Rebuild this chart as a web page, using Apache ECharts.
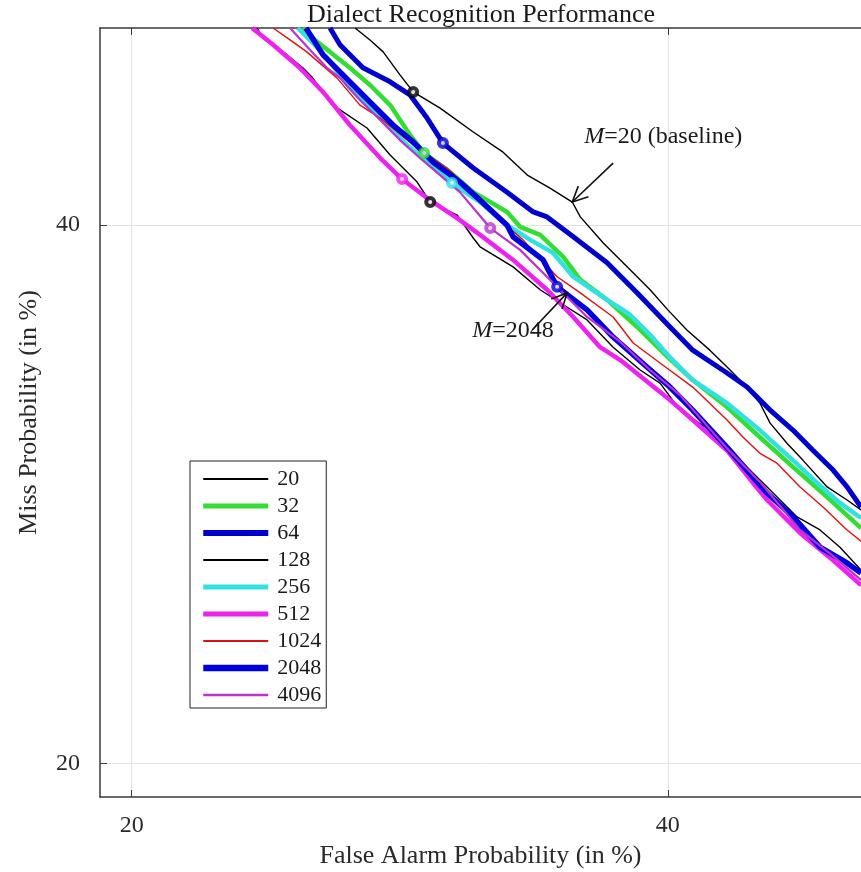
<!DOCTYPE html>
<html><head><meta charset="utf-8">
<script src="https://cdn.jsdelivr.net/npm/echarts@6/dist/echarts.min.js"></script>
<style>html,body{margin:0;padding:0;background:#fff}#c{width:861px;height:872px}</style>
</head><body><div id="c"></div>
<script>
// ---- data: [false alarm %, miss %] ----
const seriesNames = ['20','32','64','128','256','512','1024','2048','4096'];
const det20 = [[27.54,48.49],[28.09,47.97],[28.58,47.45],[29.21,46.45],[29.71,45.71],[30.74,45.01],[32.03,43.98],[33.21,43.11],[34.18,42.13],[35.10,41.57],[36.01,40.98],[36.34,40.35],[37.29,39.25],[38.41,38.13],[39.25,37.30],[40.00,36.47],[40.81,35.65],[41.79,34.83],[42.53,34.15],[43.30,33.43],[43.95,32.71],[44.39,31.93],[45.13,31.14],[45.82,30.49],[46.87,29.48],[47.74,28.99],[48.35,28.62]];
const det32 = [[25.66,48.49],[26.09,47.97],[26.63,47.45],[27.35,46.76],[28.09,46.01],[28.84,45.14],[29.59,43.85],[30.13,43.07],[31.12,42.26],[32.03,41.40],[32.58,41.06],[33.37,40.56],[33.89,39.93],[34.70,39.59],[35.64,38.67],[36.34,37.71],[37.45,36.88],[38.71,35.77],[40.00,34.55],[41.06,33.63],[42.53,32.56],[43.95,31.38],[45.39,30.23],[46.87,29.10],[48.35,27.95]];
const det64 = [[26.63,48.49],[26.99,47.76],[27.83,46.76],[28.84,46.15],[29.59,45.58],[30.24,44.58],[30.85,43.50],[32.03,42.43],[33.37,41.40],[34.42,40.56],[34.98,40.35],[36.05,39.51],[37.45,38.42],[38.71,37.17],[40.00,35.86],[41.06,34.83],[42.53,33.91],[43.39,33.35],[44.39,32.44],[45.39,31.65],[46.26,30.87],[47.13,30.12],[47.74,29.48],[48.35,28.73]];
const det128 = [[24.07,48.49],[24.24,48.14],[24.97,47.45],[25.66,46.76],[25.98,46.36],[26.74,45.14],[27.98,44.15],[28.84,42.99],[29.86,41.83],[30.36,40.98],[31.40,40.43],[32.03,39.46],[32.30,39.09],[33.61,38.25],[34.70,37.30],[35.64,36.68],[36.62,36.06],[37.70,34.95],[38.83,34.03],[39.67,33.51],[40.52,32.44],[41.79,31.65],[43.22,30.38],[44.26,29.48],[45.56,28.36],[46.56,27.88],[47.43,27.25],[48.35,26.43]];
const det256 = [[25.48,48.49],[25.98,47.89],[26.52,47.19],[27.35,45.88],[28.47,44.58],[29.48,43.42],[30.36,42.56],[31.20,41.79],[32.30,40.98],[33.37,40.00],[34.30,39.38],[35.22,38.84],[36.05,37.84],[37.45,36.88],[38.41,36.27],[39.25,35.45],[40.00,34.63],[41.06,33.63],[42.53,32.71],[43.95,31.65],[45.39,30.49],[46.43,29.63],[47.43,28.88],[48.35,28.32]];
const det512 = [[23.90,48.49],[24.62,47.76],[25.55,46.76],[26.38,45.71],[27.35,44.28],[28.47,42.86],[29.29,41.96],[30.24,41.15],[31.40,40.30],[32.30,39.59],[33.61,38.54],[34.98,37.30],[36.05,36.18],[37.16,34.95],[38.00,34.43],[40.00,32.91],[41.06,32.05],[42.53,30.87],[43.65,29.63],[44.26,28.99],[45.69,27.77],[47.13,26.78],[48.35,25.89]];
const det1024 = [[24.62,48.49],[25.21,47.97],[25.80,47.45],[26.88,46.32],[27.72,45.14],[28.47,44.58],[29.71,43.42],[31.01,42.43],[32.03,41.40],[33.09,40.22],[34.01,39.38],[35.39,37.84],[36.34,37.17],[37.70,36.18],[38.54,35.12],[39.67,34.31],[41.06,33.35],[42.53,32.05],[43.22,31.38],[43.95,30.76],[44.69,30.38],[45.69,29.48],[46.69,28.73],[47.74,27.88],[48.35,27.47]];
const det2048 = [[25.77,48.49],[26.38,47.32],[27.10,46.45],[27.83,45.58],[28.95,44.28],[29.71,43.55],[30.47,42.69],[31.51,41.83],[32.30,41.06],[33.37,40.00],[33.61,39.51],[34.82,38.54],[35.39,37.42],[36.62,36.47],[37.70,35.36],[39.12,34.15],[40.00,33.43],[41.06,32.44],[42.53,30.99],[43.65,29.85],[44.26,29.25],[45.39,28.36],[46.56,27.25],[47.74,26.68],[48.35,26.32]];
const det4096 = [[25.21,48.49],[25.91,47.54],[26.52,46.76],[26.99,46.32],[27.72,45.36],[28.47,44.50],[29.21,43.63],[29.97,42.86],[30.74,42.13],[31.51,41.40],[32.10,40.64],[32.70,39.88],[33.89,38.96],[35.22,37.59],[36.62,36.18],[38.00,35.16],[39.25,34.03],[40.52,33.03],[42.53,30.95],[43.95,29.67],[45.69,27.88],[47.13,26.93],[48.35,26.07]];
// operating-point markers, one per system (1024 has none visible)
const operatingPoints = [[29.71,45.71],[30.13,43.07],[30.85,43.50],[30.36,40.98],[31.20,41.79],[29.29,41.96],null,[35.39,37.42],[32.70,39.88]];
const xTickValues = [20, 40];
const yTickValues = [20, 40];
const xRangePct = [19.04, 48.35];
const yRangePct = [18.99, 48.49];
// annotations (data coords, %)
const noteBaseline = {text: 'M=20 (baseline)', at: [36.50, 43.76], tip: [36.01, 40.98], tail: [37.70, 42.64]};
const note2048 = {text: 'M=2048', at: [31.99, 35.61], tip: [35.80, 37.17], tail: [34.38, 35.65]};

// ---- styles ----
const allData = [det20, det32, det64, det128, det256, det512, det1024, det2048, det4096];
const colors = ['#000000','#33dd33','#0000cc','#000000','#33e0e0','#ee22ee','#dd1111','#0000dd','#bb33cc'];
const widths = [1.4, 4.5, 5, 1.4, 4.5, 4.5, 1.4, 5.5, 2.2];
const legendWidths = [2, 5, 6, 2, 5, 5, 2, 6.5, 2.5];
const FONT = 'Liberation Serif';

function probit(p){
  const a=[-3.969683028665376e+01,2.209460984245205e+02,-2.759285104469687e+02,1.383577518672690e+02,-3.066479806614716e+01,2.506628277459239e+00];
  const b=[-5.447609879822406e+01,1.615858368580409e+02,-1.556989798598866e+02,6.680131188771972e+01,-1.328068155288572e+01];
  const c=[-7.784894002430293e-03,-3.223964580411365e-01,-2.400758277161838e+00,-2.549732539343734e+00,4.374664141464968e+00,2.938163982698783e+00];
  const d=[7.784695709041462e-03,3.224671290700398e-01,2.445134137142996e+00,3.754408661907416e+00];
  const pl=0.02425;
  if(p<pl){const q=Math.sqrt(-2*Math.log(p));return (((((c[0]*q+c[1])*q+c[2])*q+c[3])*q+c[4])*q+c[5])/((((d[0]*q+d[1])*q+d[2])*q+d[3])*q+1);}
  if(p>1-pl){const q=Math.sqrt(-2*Math.log(1-p));return -(((((c[0]*q+c[1])*q+c[2])*q+c[3])*q+c[4])*q+c[5])/((((d[0]*q+d[1])*q+d[2])*q+d[3])*q+1);}
  const q=p-0.5,r=q*q;
  return (((((a[0]*r+a[1])*r+a[2])*r+a[3])*r+a[4])*r+a[5])*q/(((((b[0]*r+b[1])*r+b[2])*r+b[3])*r+b[4])*r+1);
}
function normCdf(z){
  const t=1/(1+0.3275911*Math.abs(z)/Math.SQRT2);
  const y=1-(((((1.061405429*t-1.453152027)*t)+1.421413741)*t-0.284496736)*t+0.254829592)*t*Math.exp(-z*z/2);
  return z>=0?(1+y)/2:(1-y)/2;
}
const P = v => probit(v/100);
const toDet = pt => [P(pt[0]), P(pt[1])];

const axisCommon = {
  type:'value', scale:true,
  axisLine:{show:true, onZero:false, lineStyle:{color:'#3a3a3a', width:1.5}},
  splitLine:{show:true, lineStyle:{color:'#e2e2e2', width:1}}
};
const labelFmt = v => String(Math.round(normCdf(v)*100));

const series = [];
seriesNames.forEach((n,i)=>{
  series.push({
    type:'line', name:n, data: allData[i].map(toDet),
    showSymbol:false, symbol:'none', silent:true, animation:false,
    lineStyle:{color:colors[i], width:widths[i]}, itemStyle:{color:colors[i]},
    z: 2+i
  });
});
operatingPoints.forEach((pt,i)=>{
  if(!pt) return;
  series.push({
    type:'scatter', name:'op'+seriesNames[i], data:[toDet(pt)],
    symbol:'circle', symbolSize:8, silent:true, animation:false,
    itemStyle:{color:'#ffffff', borderColor:colors[i], borderWidth:4},
    z: 30
  });
});

const chart = echarts.init(document.getElementById('c'), null, {renderer:'canvas'});
chart.setOption({
  animation:false,
  backgroundColor:'#ffffff',
  title:{text:'Dialect Recognition Performance', left:307, top:2, padding:0,
    textStyle:{fontFamily:FONT, fontSize:26, fontWeight:'normal', color:'#1a1a1a'}},
  grid:{left:100, right:0, top:28, bottom:75, containLabel:false, outerBoundsMode:'none'},
  legend:{
    data: seriesNames.map((n,i)=>({name:n, itemStyle:{opacity:0}, lineStyle:{color:colors[i], width:legendWidths[i]}})),
    orient:'vertical', left:190, top:461,
    padding:[7,5,2,10], itemGap:5, itemWidth:65, itemHeight:12,
    backgroundColor:'#ffffff', borderColor:'#222', borderWidth:1, borderRadius:0,
    selectedMode:false,
    itemStyle:{opacity:0},
    textStyle:{fontFamily:FONT, fontSize:22, color:'#1a1a1a', padding:[0,0,0,4]}
  },
  xAxis:[
    Object.assign({}, axisCommon, {
      position:'bottom', min:P(xRangePct[0]), max:P(xRangePct[1]),
      axisTick:{show:true, inside:true, length:7, customValues:xTickValues.map(P), lineStyle:{color:'#3a3a3a'}},
      axisLabel:{show:true, customValues:xTickValues.map(P), formatter:labelFmt, fontFamily:FONT, fontSize:24, color:'#2a2a2a', margin:17},
      name:'False Alarm Probability (in %)', nameLocation:'middle', nameGap:46, nameMoveOverlap:false,
      nameTextStyle:{fontFamily:FONT, fontSize:26, color:'#2a2a2a'}
    }),
    Object.assign({}, axisCommon, {
      position:'top', min:P(xRangePct[0]), max:P(xRangePct[1]),
      axisTick:{show:true, inside:true, length:7, customValues:xTickValues.map(P), lineStyle:{color:'#3a3a3a'}},
      axisLabel:{show:false}, splitLine:{show:false}
    })
  ],
  yAxis:[
    Object.assign({}, axisCommon, {
      position:'left', min:P(yRangePct[0]), max:P(yRangePct[1]),
      axisTick:{show:true, inside:true, length:7, customValues:yTickValues.map(P), lineStyle:{color:'#3a3a3a'}},
      axisLabel:{show:true, customValues:yTickValues.map(P), formatter:labelFmt, fontFamily:FONT, fontSize:24, color:'#2a2a2a', margin:20},
      name:'Miss Probability (in %)', nameLocation:'middle', nameGap:58, nameMoveOverlap:false,
      nameTextStyle:{fontFamily:FONT, fontSize:26, color:'#2a2a2a'}
    })
  ],
  series: series
});

function px(pt){ return chart.convertToPixel({xAxisIndex:0, yAxisIndex:0}, toDet(pt)); }
function arrow(note){
  const a = px(note.tail), b = px(note.tip);
  const dx=b[0]-a[0], dy=b[1]-a[1], L=Math.hypot(dx,dy), ux=dx/L, uy=dy/L;
  const h=17, ang=0.45;
  const rot=(x,y,t)=>[x*Math.cos(t)-y*Math.sin(t), x*Math.sin(t)+y*Math.cos(t)];
  const r1=rot(-ux,-uy,ang), r2=rot(-ux,-uy,-ang);
  const st={stroke:'#111', lineWidth:1.6, fill:null};
  return [
    {type:'line', shape:{x1:a[0],y1:a[1],x2:b[0],y2:b[1]}, style:st, z:50},
    {type:'polyline', shape:{points:[[b[0]+r1[0]*h,b[1]+r1[1]*h],[b[0],b[1]],[b[0]+r2[0]*h,b[1]+r2[1]*h]]}, style:st, z:50}
  ];
}
function label(note){
  const p = px(note.at);
  const rest = note.text.slice(1);
  return {type:'text', x:p[0], y:p[1], z:50, style:{
    text:'{i|M}{n|'+rest+'}', verticalAlign:'middle', align:'left',
    rich:{i:{fontFamily:FONT, fontStyle:'italic', fontSize:24, fill:'#1a1a1a'}, n:{fontFamily:FONT, fontSize:24, fill:'#1a1a1a'}}
  }};
}
chart.setOption({graphic:{elements:[].concat(arrow(noteBaseline), arrow(note2048), [label(noteBaseline), label(note2048)])}});
</script>
</body></html>
